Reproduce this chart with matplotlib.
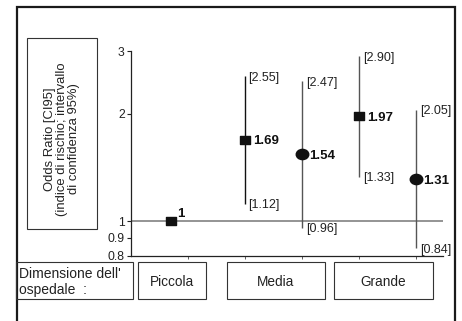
import matplotlib
matplotlib.use("Agg")
import matplotlib.pyplot as plt
import matplotlib.patches as patches
from matplotlib.path import Path
from matplotlib.transforms import Affine2D
from matplotlib.ticker import NullLocator, FixedLocator
import numpy as np

plt.rcParams['font.family'] = ['Liberation Sans', 'DejaVu Sans']

# ---- data ----
categories = ["Piccola", "Media", "Grande"]
row_title = "Dimensione dell'\nospedale  :"
y_title = "Odds Ratio [CI95]\n(indice di rischio; intervallo\ndi confidenza 95%)"

# squares (reference + one estimate per size class)
sq_x = [0.7, 2, 4]
sq_or = [1.0, 1.69, 1.97]
sq_lo = [None, 1.12, 1.33]
sq_hi = [None, 2.55, 2.90]
sq_lab = ["1", "1.69", "1.97"]

# circles
ci_x = [3, 5]
ci_or = [1.54, 1.31]
ci_lo = [0.96, 0.84]
ci_hi = [2.47, 2.05]
ci_lab = ["1.54", "1.31"]

ytick_vals = [0.8, 0.9, 1, 2, 3]
ytick_labels = ["0.8", "0.9", "1", "2", "3"]
xtick_vals = [1, 2, 3, 4, 5]

W, H = 462, 321
fig = plt.figure(figsize=(W / 100, H / 100), dpi=100)

def fx(px):
    return px / W

def fy(py):
    return 1 - py / H

ax = fig.add_axes([fx(131), fy(255.8), fx(443) - fx(131), fy(51) - fy(255.8)])
ax.set_yscale('log')
ax.set_ylim(0.8, 3)
ax.set_xlim(0, 5.47)
ax.yaxis.set_minor_locator(NullLocator())
ax.yaxis.set_major_locator(FixedLocator(ytick_vals))
ax.set_yticklabels(ytick_labels)
ax.set_xticks(xtick_vals)
ax.set_xticklabels([])
ax.tick_params(axis='y', direction='out', length=3, width=0.8, pad=1.5,
               labelsize=8.7, colors='#222222')
ax.tick_params(axis='x', direction='out', length=2, width=0.6, colors='#444444')
for s in ['top', 'right']:
    ax.spines[s].set_visible(False)
for s in ['left', 'bottom']:
    ax.spines[s].set_linewidth(0.9)
    ax.spines[s].set_color('#222222')
ax.patch.set_alpha(0)

# reference line at 1
ax.axhline(1, color='#777777', lw=1.1, zorder=1)

# markers
rect_marker = Path([(-0.5, -0.43), (0.5, -0.43), (0.5, 0.43), (-0.5, 0.43), (-0.5, -0.43)],
                   [Path.MOVETO, Path.LINETO, Path.LINETO, Path.LINETO, Path.CLOSEPOLY])
circ = Path.unit_circle()
ell_marker = circ.transformed(Affine2D().scale(1.0, 0.82))

# error bars
for i, (x, lo, hi) in enumerate(zip(sq_x, sq_lo, sq_hi)):
    if lo is None:
        continue
    col = '#111111' if i == 1 else '#555555'
    ax.vlines(x, lo, hi, colors=col, lw=1.0, zorder=2)
for x, lo, hi in zip(ci_x, ci_lo, ci_hi):
    ax.vlines(x, lo, hi, colors='#555555', lw=1.0, zorder=2)

ax.plot(sq_x, sq_or, linestyle='none', marker=rect_marker, markersize=6.7,
        color='#111111', zorder=3, clip_on=False)
ax.plot(ci_x, ci_or, linestyle='none', marker=ell_marker, markersize=9.0,
        color='#111111', zorder=3, clip_on=False)

bkw = dict(fontsize=9, color='#222222', textcoords='offset points', ha='left', va='center')
vkw = dict(fontsize=9.5, color='#111111', fontweight='bold', textcoords='offset points',
           ha='left', va='center')

for x, v, lo, hi, lab in zip(sq_x, sq_or, sq_lo, sq_hi, sq_lab):
    if lo is None:
        ax.annotate(lab, (x, v), xytext=(4.5, 5), **vkw)
    else:
        ax.annotate(lab, (x, v), xytext=(5.5, -1), **vkw)
        ax.annotate(f"[{hi:.2f}]", (x, hi), xytext=(2.5, -1), **bkw)
        ax.annotate(f"[{lo:.2f}]", (x, lo), xytext=(2.5, -1), **bkw)
for x, v, lo, hi, lab in zip(ci_x, ci_or, ci_lo, ci_hi, ci_lab):
    ax.annotate(lab, (x, v), xytext=(5.0, -1), **vkw)
    ax.annotate(f"[{hi:.2f}]", (x, hi), xytext=(3, -1), **bkw)
    ax.annotate(f"[{lo:.2f}]", (x, lo), xytext=(3, -1), **bkw)

# outer frame
fig.add_artist(patches.Rectangle((fx(17), -0.05), fx(455) - fx(17), fy(7) + 0.05,
                                 transform=fig.transFigure, fill=False,
                                 lw=1.6, edgecolor='#1a1a1a', clip_on=False))

# y title box
fig.add_artist(patches.Rectangle((fx(27), fy(229)), fx(97) - fx(27), fy(38) - fy(229),
                                 transform=fig.transFigure, fill=False,
                                 lw=0.8, edgecolor='#333333'))
fig.text(fx(62), fy(139), y_title, rotation=90, ha='center', va='center',
         multialignment='center', fontsize=9.4, linespacing=1.0, color='#222222')

# bottom category boxes
boxes = [(16, 133), (138, 206), (227, 325), (334, 433)]
for (x0, x1) in boxes:
    fig.add_artist(patches.Rectangle((fx(x0), fy(299)), fx(x1) - fx(x0), fy(262) - fy(299),
                                     transform=fig.transFigure, fill=False,
                                     lw=0.8, edgecolor='#333333'))
fig.text(fx(19), fy(282), row_title, ha='left', va='center', fontsize=10,
         linespacing=1.2, color='#222222')
for (x0, x1), cat in zip(boxes[1:], categories):
    fig.text(fx((x0 + x1) / 2), fy(281.5), cat, ha='center', va='center',
             fontsize=9.8, color='#222222')

fig.savefig('out.png', dpi=100)
